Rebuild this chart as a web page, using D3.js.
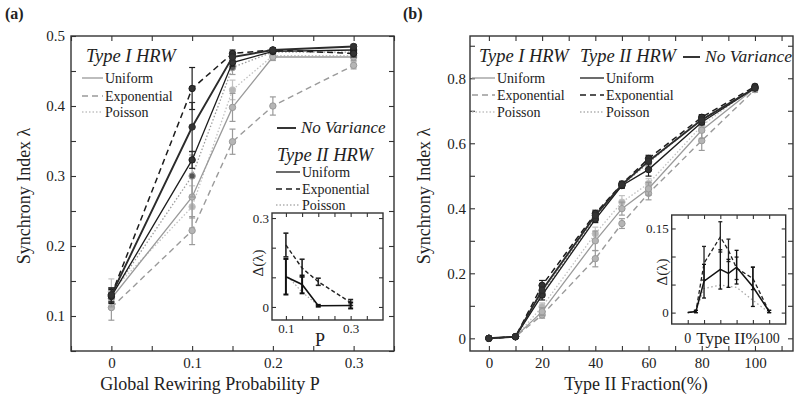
<!DOCTYPE html>
<html>
<head>
<meta charset="utf-8">
<script src="https://cdn.jsdelivr.net/npm/d3@7"></script>
<style>
  body { margin: 0; background: #fff; }
  svg { display: block; }
  svg text { font-family: "Liberation Serif", "Times New Roman", Tinos, "DejaVu Serif", "Noto Serif", serif !important; fill: #222; }
</style>
</head>
<body>
<div id="chart"></div>
<script>
// ---------- panel (a): synchrony vs global rewiring probability ----------
const probA = [0, 0.1, 0.15, 0.2, 0.3];
const aT1Uniform = [0.125, 0.27, 0.398, 0.470, 0.470];
const aT1UniformErr = [0.012, 0.03, 0.02, 0.005, 0.005];
const aT1Expo = [0.112, 0.222, 0.349, 0.400, 0.458];
const aT1ExpoErr = [0.018, 0.02, 0.018, 0.013, 0.005];
const aT1Poisson = [0.135, 0.256, 0.423, 0.472, 0.472];
const aT1PoissonErr = [0.018, 0.03, 0.014, 0.005, 0.005];
const aT2Uniform = [0.128, 0.323, 0.462, 0.478, 0.480];
const aT2UniformErr = [0.01, 0.012, 0.005, 0.003, 0.003];
const aT2Expo = [0.130, 0.425, 0.475, 0.480, 0.475];
const aT2ExpoErr = [0.01, 0.03, 0.005, 0.003, 0.005];
const aT2Poisson = [0.130, 0.300, 0.455, 0.477, 0.477];
const aT2PoissonErr = [0.01, 0.03, 0.01, 0.003, 0.003];
const aNoVar = [0.130, 0.370, 0.470, 0.480, 0.485];
const aNoVarErr = [0.01, 0.035, 0.005, 0.003, 0.003];

// inset (a): spread of lambda
const probInsetA = [0.1, 0.15, 0.2, 0.3];
const insAExpo = [0.209, 0.131, 0.085, 0.015];
const insAExpoErr = [0.04, 0.03, 0.012, 0.01];
const insAUniform = [0.102, 0.076, 0.004, 0.005];
const insAUniformErr = [0.06, 0.03, 0.003, 0.01];
const insAPoisson = [0.110, 0.050, 0.005, 0.005];

// ---------- panel (b): synchrony vs type II fraction ----------
const fracB = [0, 10, 20, 40, 50, 60, 80, 100];
const bT1Uniform = [0, 0.005, 0.082, 0.300, 0.399, 0.460, 0.640, 0.770];
const bT1UniformErr = [0, 0.003, 0.012, 0.03, 0.02, 0.02, 0.025, 0.008];
const bT1Expo = [0, 0.005, 0.072, 0.245, 0.353, 0.446, 0.608, 0.765];
const bT1ExpoErr = [0, 0.003, 0.01, 0.025, 0.015, 0.02, 0.03, 0.008];
const bT1Poisson = [0, 0.005, 0.097, 0.322, 0.419, 0.476, 0.654, 0.775];
const bT1PoissonErr = [0, 0.003, 0.012, 0.02, 0.02, 0.015, 0.02, 0.008];
const bT2Uniform = [0, 0.005, 0.133, 0.366, 0.470, 0.519, 0.665, 0.770];
const bT2UniformErr = [0, 0.003, 0.015, 0.01, 0.008, 0.02, 0.008, 0.005];
const bT2Expo = [0, 0.005, 0.163, 0.384, 0.475, 0.553, 0.680, 0.775];
const bT2ExpoErr = [0, 0.003, 0.015, 0.01, 0.008, 0.01, 0.008, 0.005];
const bT2Poisson = [0, 0.005, 0.140, 0.370, 0.470, 0.540, 0.675, 0.770];
const bT2PoissonErr = [0, 0.003, 0.012, 0.01, 0.008, 0.01, 0.008, 0.005];
const bNoVar = [0, 0.005, 0.148, 0.378, 0.473, 0.545, 0.672, 0.770];
const bNoVarErr = [0, 0.003, 0.01, 0.008, 0.006, 0.008, 0.006, 0.005];

// inset (b)
const insBExpo = [0, 0.002, 0.088, 0.135, 0.111, 0.079, 0.061, 0.002];
const insBExpoErr = [0, 0.002, 0.03, 0.027, 0.02, 0.02, 0.02, 0.002];
const insBUniform = [0, 0.002, 0.056, 0.077, 0.070, 0.081, 0.046, 0.002];
const insBUniformErr = [0, 0.002, 0.03, 0.035, 0.025, 0.03, 0.035, 0.002];
const insBPoisson = [0, 0.002, 0.043, 0.049, 0.047, 0.045, 0.022, 0];

const legendRows = ["Uniform", "Exponential", "Poisson"];

// line styles for each series
const styles = {
    t1u: { stroke: "#9a9a9a", dash: null, width: 1.3, fill: "#b5b5b5" },
    t1e: { stroke: "#9a9a9a", dash: "6,4", width: 1.4, fill: "#b5b5b5" },
    t1p: { stroke: "#c2c2c2", dash: "1.5,2", width: 1.3, fill: "#b5b5b5" },
    t2u: { stroke: "#1c1c1c", dash: null, width: 1.3, fill: "#333" },
    t2e: { stroke: "#1c1c1c", dash: "6,4", width: 1.5, fill: "#333" },
    t2p: { stroke: "#9c9c9c", dash: "1.5,2", width: 1.3, fill: "#555" },
    nov: { stroke: "#2b2b2b", dash: null, width: 1.9, fill: "#333" }
};
const t2pLegend = { stroke: "#b0b0b0", dash: "1.5,2", width: 1.3 };

const W = 800, H = 402;
const svg = d3.select("#chart").append("svg")
    .attr("width", W).attr("height", H)
    .attr("viewBox", [0, 0, W, H]);

const near = (v, step) => Math.abs(v / step - Math.round(v / step)) < 1e-6;
const steps = (a, b, s) => d3.range(Math.round((b - a) / s) + 1).map(i => +(a + i * s).toFixed(6));

// boxed axes, MATLAB style: inward ticks on all four sides
function frame(x, y, o) {
    const [x0, x1] = x.range();
    const [yb, yt] = y.range();
    const g = svg.append("g");

    g.append("g").attr("transform", `translate(0,${yb})`)
        .call(d3.axisBottom(x).tickValues(o.xTicks).tickSize(-o.tick).tickPadding(o.xPad).tickFormat(o.xFmt || ""));
    g.append("g").attr("transform", `translate(0,${yt})`)
        .call(d3.axisTop(x).tickValues(o.xTicks).tickSize(-o.tick).tickFormat(""));
    g.append("g").attr("transform", `translate(${x0},0)`)
        .call(d3.axisLeft(y).tickValues(o.yTicks).tickSize(-o.tick).tickPadding(o.yPad).tickFormat(o.yFmt));
    g.append("g").attr("transform", `translate(${x1},0)`)
        .call(d3.axisRight(y).tickValues(o.yTicks).tickSize(-o.tick).tickFormat(""));

    g.selectAll(".domain").remove();
    g.selectAll("g").attr("font-family", null);
    g.selectAll(".tick line").attr("stroke", "#333").attr("stroke-width", 1.1);
    g.selectAll(".tick text").attr("font-size", o.font).attr("fill", "#222");
    g.append("rect")
        .attr("x", x0).attr("y", yt).attr("width", x1 - x0).attr("height", yb - yt)
        .attr("fill", "none").attr("stroke", "#333").attr("stroke-width", 1.4);
    return g;
}

function drawSeries(g, x, y, xs, ys, errs, st, opt) {
    const pts = xs.map((v, i) => ({ x: v, y: ys[i], e: errs ? errs[i] : 0 }));
    const line = d3.line().x(d => x(d.x)).y(d => y(d.y));
    g.append("path")
        .attr("d", line(pts))
        .attr("fill", "none")
        .attr("stroke", st.stroke)
        .attr("stroke-width", st.width)
        .attr("stroke-dasharray", st.dash);
    if (errs) {
        const eg = g.append("g").attr("stroke", st.stroke).attr("stroke-width", opt.ew || 1.2);
        pts.filter(d => d.e > 0).forEach(d => {
            eg.append("line").attr("x1", x(d.x)).attr("x2", x(d.x)).attr("y1", y(d.y - d.e)).attr("y2", y(d.y + d.e));
            [d.y - d.e, d.y + d.e].forEach(v => eg.append("line")
                .attr("x1", x(d.x) - opt.cap).attr("x2", x(d.x) + opt.cap)
                .attr("y1", y(v)).attr("y2", y(v)));
        });
    }
    if (opt.r) {
        g.append("g").selectAll("circle").data(pts).join("circle")
            .attr("cx", d => x(d.x)).attr("cy", d => y(d.y)).attr("r", opt.r)
            .attr("fill", st.fill).attr("stroke", st.stroke).attr("stroke-width", 1);
    }
}

function legendItem(x1, x2, yLine, label, st) {
    svg.append("line")
        .attr("x1", x1).attr("x2", x2).attr("y1", yLine).attr("y2", yLine)
        .attr("stroke", st.stroke).attr("stroke-width", st.width)
        .attr("stroke-dasharray", st.dash);
    if (label) svg.append("text").attr("x", x2 + 2).attr("y", yLine + 4.5)
        .attr("font-size", 14).text(label);
}

function heading(x, y, label, size = 18.5) {
    svg.append("text").attr("x", x).attr("y", y)
        .attr("font-size", size).attr("font-style", "italic").text(label);
}

// ================= panel (a) =================
const xA = d3.scaleLinear().domain([-0.05, 0.35]).range([71, 394]);
const yA = d3.scaleLinear().domain([0.05, 0.5]).range([351, 36]);
frame(xA, yA, {
    xTicks: steps(-0.05, 0.35, 0.05), yTicks: steps(0.05, 0.5, 0.05),
    xFmt: v => !near(v, 0.1) ? "" : v === 0 ? "0" : d3.format(".1f")(v),
    yFmt: v => near(v, 0.1) ? d3.format(".1f")(v) : "",
    tick: 5, xPad: 6, yPad: 6, font: 15
});

const gA = svg.append("g");
const seriesA = [
    [aT1Poisson, aT1PoissonErr, "t1p"], [aT1Expo, aT1ExpoErr, "t1e"], [aT1Uniform, aT1UniformErr, "t1u"],
    [aT2Poisson, aT2PoissonErr, "t2p"], [aT2Uniform, aT2UniformErr, "t2u"],
    [aT2Expo, aT2ExpoErr, "t2e"], [aNoVar, aNoVarErr, "nov"]
];
seriesA.forEach(([ys, es, k]) => drawSeries(gA, xA, yA, probA, ys, es, styles[k], { r: 3.2, cap: 3 }));

// legend (a)
heading(86, 62, "Type I HRW");
legendItem(82, 103, 78, "Uniform", styles.t1u);
legendItem(82, 103, 96, "Exponential", styles.t1e);
legendItem(82, 103, 112, "Poisson", styles.t1p);
legendItem(277, 296, 128, null, styles.nov);
heading(301, 133, "No Variance", 17);
heading(277, 161, "Type II HRW");
legendItem(276, 300, 172, "Uniform", styles.t2u);
legendItem(276, 300, 189, "Exponential", styles.t2e);
legendItem(276, 300, 205, "Poisson", t2pLegend);

// inset (a)
const xIA = d3.scaleLinear().domain([0.057, 0.4]).range([272, 383]);
const yIA = d3.scaleLinear().domain([-0.044, 0.317]).range([320, 213]);
svg.append("rect").attr("x", 272).attr("y", 213).attr("width", 111).attr("height", 107).attr("fill", "#fff");
frame(xIA, yIA, {
    xTicks: steps(0.1, 0.35, 0.05), yTicks: steps(0, 0.3, 0.1),
    xFmt: v => near(v, 0.1) && !near(v, 0.2) ? d3.format(".1f")(v) : "",
    yFmt: v => v === 0 ? "0" : near(v, 0.3) ? d3.format(".1f")(v) : "",
    tick: 4, xPad: 4, yPad: 3, font: 13
});
const gIA = svg.append("g");
drawSeries(gIA, xIA, yIA, probInsetA, insAPoisson, null, { stroke: "#a8a8a8", dash: "1.5,2", width: 1.2 }, {});
drawSeries(gIA, xIA, yIA, probInsetA, insAExpo, insAExpoErr, { stroke: "#222", dash: "4,2.5", width: 1.4 }, { cap: 2.5, ew: 1.6 });
drawSeries(gIA, xIA, yIA, probInsetA, insAUniform, insAUniformErr, { stroke: "#111", dash: null, width: 1.6 }, { cap: 2.5, ew: 2 });
svg.append("text").attr("transform", "translate(263,263) rotate(-90)")
    .attr("text-anchor", "middle").attr("font-size", 15).text("Δ(λ)");
svg.append("text").attr("x", 320).attr("y", 346).attr("text-anchor", "middle").attr("font-size", 18).text("P");

// axis titles (a)
svg.append("text").attr("x", 5).attr("y", 19).attr("font-size", 16).attr("font-weight", "bold").text("(a)");
svg.append("text").attr("transform", "translate(30,196) rotate(-90)")
    .attr("text-anchor", "middle").attr("font-size", 18).text("Synchrony Index  λ");
svg.append("text").attr("x", 210).attr("y", 390).attr("text-anchor", "middle")
    .attr("font-size", 18).text("Global Rewiring Probability P");

// ================= panel (b) =================
const xB = d3.scaleLinear().domain([-7.1, 114.3]).range([470, 793]);
const yB = d3.scaleLinear().domain([-0.039, 0.93]).range([351, 36]);
frame(xB, yB, {
    xTicks: steps(0, 110, 10), yTicks: steps(0, 0.9, 0.1),
    xFmt: v => near(v, 20) ? d3.format("d")(v) : "",
    yFmt: v => !near(v, 0.2) ? "" : v === 0 ? "0" : d3.format(".1f")(v),
    tick: 5, xPad: 6, yPad: 4, font: 15
});

const gB = svg.append("g");
const seriesB = [
    [bT1Poisson, bT1PoissonErr, "t1p"], [bT1Expo, bT1ExpoErr, "t1e"], [bT1Uniform, bT1UniformErr, "t1u"],
    [bT2Poisson, bT2PoissonErr, "t2p"], [bT2Uniform, bT2UniformErr, "t2u"],
    [bT2Expo, bT2ExpoErr, "t2e"], [bNoVar, bNoVarErr, "nov"]
];
seriesB.forEach(([ys, es, k]) => drawSeries(gB, xB, yB, fracB, ys, es, styles[k], { r: 3.2, cap: 3 }));

// legend (b)
heading(479, 62, "Type I HRW");
heading(580, 62, "Type II HRW");
legendItem(683, 700, 57, null, styles.nov);
heading(705, 62, "No Variance", 17.5);
legendRows.forEach((label, i) => {
    const yl = 78 + i * 17;
    legendItem(472, 495, yl, label, [styles.t1u, styles.t1e, styles.t1p][i]);
    legendItem(580, 604, yl, label, [styles.t2u, styles.t2e, t2pLegend][i]);
});

// inset (b)
const xIB = d3.scaleLinear().domain([-19.7, 120.3]).range([671.7, 785.7]);
const yIB = d3.scaleLinear().domain([-0.0203, 0.174]).range([324, 215]);
svg.append("rect").attr("x", 671.7).attr("y", 215).attr("width", 114).attr("height", 109).attr("fill", "#fff");
frame(xIB, yIB, {
    xTicks: steps(0, 100, 20), yTicks: steps(0, 0.15, 0.05),
    xFmt: null,
    yFmt: v => v === 0 ? "0" : near(v, 0.15) ? d3.format(".2f")(v) : "",
    tick: 4, xPad: 4, yPad: 3, font: 13
});
const gIB = svg.append("g");
drawSeries(gIB, xIB, yIB, fracB, insBPoisson, null, { stroke: "#a8a8a8", dash: "1.5,2.5", width: 1.3 }, {});
drawSeries(gIB, xIB, yIB, fracB, insBExpo, insBExpoErr, { stroke: "#222", dash: "4,2.5", width: 1.3 }, { cap: 2, ew: 1.3 });
drawSeries(gIB, xIB, yIB, fracB, insBUniform, insBUniformErr, { stroke: "#111", dash: null, width: 1.5 }, { cap: 2, ew: 1.3 });
svg.append("text").attr("transform", "translate(667,272) rotate(-90)")
    .attr("text-anchor", "middle").attr("font-size", 15).text("Δ(λ)");
svg.append("text").attr("x", xIB(0)).attr("y", 343).attr("text-anchor", "middle").attr("font-size", 14).text("0");
svg.append("text").attr("x", xIB(100)).attr("y", 343).attr("text-anchor", "middle").attr("font-size", 14).text("100");
svg.append("text").attr("x", 728).attr("y", 344).attr("text-anchor", "middle").attr("font-size", 17).text("Type II%");

// axis titles (b)
svg.append("text").attr("x", 403).attr("y", 19).attr("font-size", 16).attr("font-weight", "bold").text("(b)");
svg.append("text").attr("transform", "translate(430,196) rotate(-90)")
    .attr("text-anchor", "middle").attr("font-size", 18).text("Synchrony Index  λ");
svg.append("text").attr("x", 636).attr("y", 390).attr("text-anchor", "middle")
    .attr("font-size", 18).text("Type II Fraction(%)");
</script>
</body>
</html>
